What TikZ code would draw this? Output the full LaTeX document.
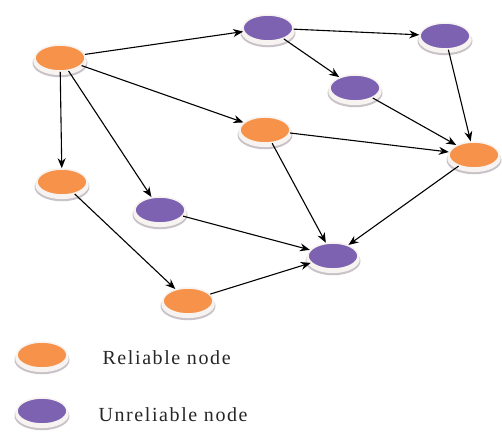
\documentclass[tikz,border=0pt]{standalone}
\usepackage{fontspec}
\setmainfont{Liberation Serif}
\usetikzlibrary{shapes.geometric,shadows,arrows.meta}
\definecolor{relc}{HTML}{F7924A}
\definecolor{unrelc}{HTML}{7E62B2}
\definecolor{rimc}{HTML}{F7F3F0}
\definecolor{edgec}{HTML}{C9C2C8}
\tikzset{
  disk/.style={ellipse, minimum width=50pt, minimum height=26pt, inner sep=0pt,
    draw=rimc, line width=1.6pt,
    general shadow={fill=edgec, shadow yshift=-4.5pt, shadow scale=1.10},
    general shadow={fill=rimc, shadow yshift=-3pt, shadow scale=1.07}},
  rel/.style={disk, fill=relc},
  unrel/.style={disk, fill=unrelc},
  arr/.style={-{Stealth[length=10pt,width=8pt]}, line width=1.1pt, black},
  legend/.style={anchor=west, text=black!85,
    font=\fontsize{20}{24}\selectfont\addfontfeature{LetterSpace=8}}
}
\begin{document}
\begin{tikzpicture}[x=1pt,y=-1pt]
\useasboundingbox (0,0) rectangle (502,439);
% network nodes
\node[rel]   (A) at (60,58)   {};
\node[unrel] (B) at (268,28)  {};
\node[unrel] (C) at (445,36)  {};
\node[unrel] (D) at (355,88)  {};
\node[rel]   (E) at (265,130) {};
\node[rel]   (F) at (474,155) {};
\node[rel]   (G) at (62,182)  {};
\node[unrel] (H) at (160,210) {};
\node[unrel] (I) at (333,256) {};
\node[rel]   (J) at (188,301) {};
% links
\draw[arr] (A) -- (B);
\draw[arr] (A) -- (G);
\draw[arr] (A) -- (H);
\draw[arr] (A) -- (E);
\draw[arr] (B) -- (C);
\draw[arr] (B) -- (D);
\draw[arr] (C) -- (F);
\draw[arr] (D) -- (F);
\draw[arr] (E) -- (F);
\draw[arr] (E) -- (I);
\draw[arr] (F) -- (I);
\draw[arr] (H) -- (I);
\draw[arr] (G) -- (J);
\draw[arr] (J) -- (I);
% legend
\node[rel]   (L1) at (42,355) {};
\node[unrel] (L2) at (42,411) {};
\node[legend] (T1) at (99,358) {Reliable node};
\node[legend] (T2) at (95,415) {Unreliable node};
\end{tikzpicture}
\end{document}
